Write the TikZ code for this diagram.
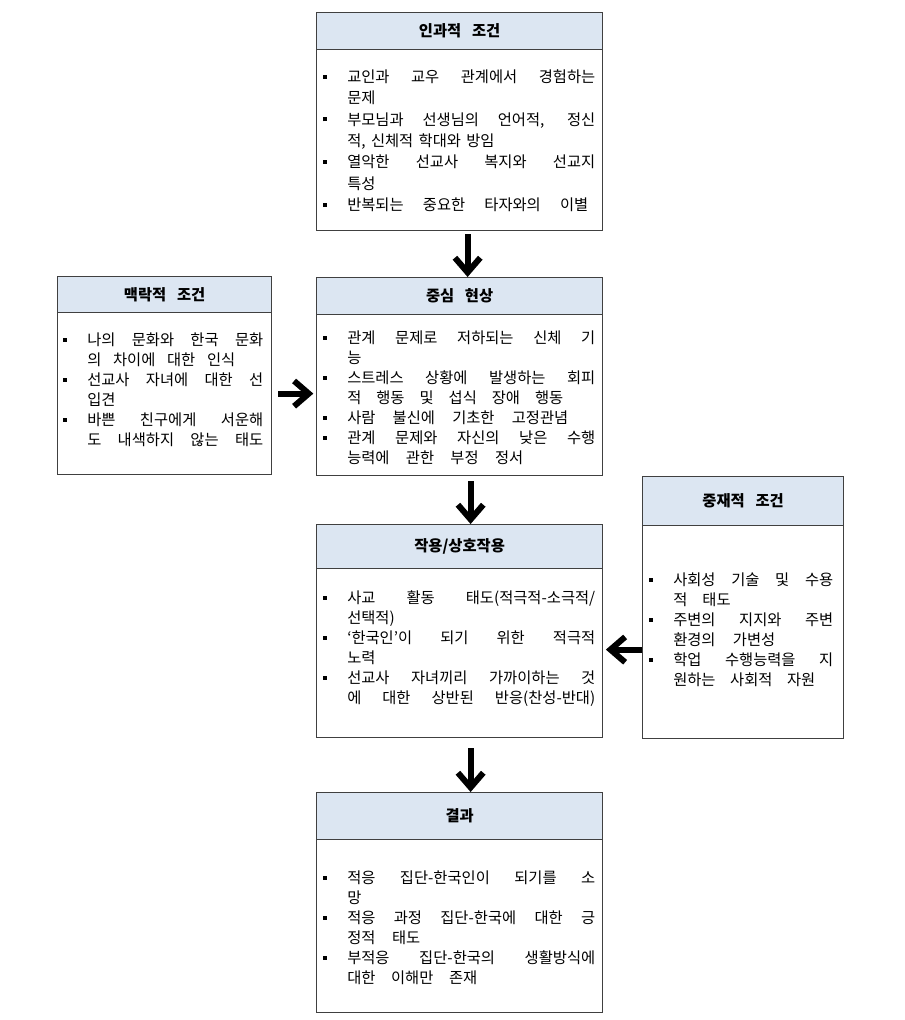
\documentclass[tikz,border=0pt]{standalone}
\usepackage{fontspec}
\setmainfont{Noto Sans CJK KR}
\usetikzlibrary{arrows.meta}
\definecolor{hdr}{HTML}{DCE6F2}
\definecolor{bord}{HTML}{404040}
\newlength\tw
\newcommand\sqb{\llap{\rule[2.9pt]{3pt}{3pt}\hspace{15pt}}}
\newcommand\jline[1]{\hbox to\tw{\spaceskip=0.25em plus 1fil\relax #1}}
\newcommand\wline[2]{\hbox to #1{\spaceskip=0.25em plus 1fil\relax #2}}
\newcommand\nline[1]{\hbox{\spaceskip=0.9em\relax #1}}
\newcommand\blk[3]{\vtop{\tw=#1\fontsize{11.5pt}{#2}\selectfont\baselineskip=#2\lineskiplimit=-20pt #3}}
\tikzset{
  hd/.style={draw=bord, fill=hdr, line width=0.9pt, inner sep=0, anchor=north west,
    font=\bfseries\fontsize{11.5pt}{13pt}\selectfont},
  bx/.style={draw=bord, line width=0.9pt, inner sep=0, anchor=north west},
  tx/.style={inner sep=0, anchor=base west},
  bigarr/.style={line width=4.5pt, -{Straight Barb[length=11pt,width=19pt]}},
}
\begin{document}
\begin{tikzpicture}[x=0.75pt,y=-0.75pt]
\useasboundingbox[fill=white] (0,0) rectangle (905,1020);

% A: causal conditions
\node[hd, minimum width=214.5pt, minimum height=27.75pt] (Ah) at (316,12) {{\spaceskip=0.7em\relax 인과적 조건}};
\node[bx, minimum width=214.5pt, minimum height=163.5pt] (A) at (316,12) {};
\node[tx] (At) at (347,82.5) {\blk{186pt}{16pt}{%
\jline{\sqb 교인과 교우 관계에서 경험하는}
\nline{문제}
\jline{\sqb 부모님과 선생님의 언어적, 정신}
\hbox{\spaceskip=0.35em\relax 적, 신체적 학대와 방임}
\jline{\sqb 열악한 선교사 복지와 선교지}
\nline{특성}
\wline{180.75pt}{\sqb 반복되는 중요한 타자와의 이별}}};

% B: central phenomenon
\node[hd, minimum width=214.5pt, minimum height=27.75pt] (Bh) at (316,277) {{\spaceskip=0.7em\relax 중심 현상}};
\node[bx, minimum width=214.5pt, minimum height=148.5pt] (B) at (316,277) {};
\node[tx] (Bt) at (347,343.5) {\blk{186pt}{15pt}{%
\jline{\sqb 관계 문제로 저하되는 신체 기}
\nline{능}
\jline{\sqb 스트레스 상황에 발생하는 회피}
\wline{162pt}{적 행동 및 섭식 장애 행동}
\wline{165.75pt}{\sqb 사람 불신에 기초한 고정관념}
\jline{\sqb 관계 문제와 자신의 낮은 수행}
\wline{132pt}{능력에 관한 부정 정서}}};

% C: contextual conditions
\node[hd, minimum width=160.5pt, minimum height=27pt] (Ch) at (57,276) {{\spaceskip=0.7em\relax 맥락적 조건}};
\node[bx, minimum width=160.5pt, minimum height=148.5pt] (C) at (57,276) {};
\node[tx] (Ct) at (87,345.5) {\blk{132pt}{15pt}{%
\jline{\sqb 나의 문화와 한국 문화}
\wline{111pt}{의 차이에 대한 인식}
\jline{\sqb 선교사 자녀에 대한 선}
\nline{입견}
\jline{\sqb 바쁜 친구에게 서운해}
\jline{도 내색하지 않는 태도}}};

% D: action / interaction
\node[hd, minimum width=214.5pt, minimum height=33pt] (Dh) at (316,524) {작용/상호작용};
\node[bx, minimum width=214.5pt, minimum height=159.75pt] (D) at (316,524) {};
\node[tx] (Dt) at (347,603.5) {\blk{186pt}{15pt}{%
\jline{\sqb 사교 활동 태도(적극적-소극적/}
\nline{선택적)}
\jline{\sqb ‘한국인’이 되기 위한 적극적}
\nline{노력}
\jline{\sqb 선교사 자녀끼리 가까이하는 것}
\jline{에 대한 상반된 반응(찬성-반대)}}};

% E: intervening conditions
\node[hd, minimum width=150.75pt, minimum height=36.75pt] (Eh) at (642,476) {{\spaceskip=0.7em\relax 중재적 조건}};
\node[bx, minimum width=150.75pt, minimum height=196.5pt] (E) at (642,476) {};
\node[tx] (Et) at (673,585.5) {\blk{120pt}{15pt}{%
\jline{\sqb 사회성 기술 및 수용}
\wline{43pt}{적 태도}
\jline{\sqb 주변의 지지와 주변}
\wline{76.5pt}{환경의 가변성}
\jline{\sqb 학업 수행능력을 지}
\wline{106.5pt}{원하는 사회적 자원}}};

% F: consequences
\node[hd, minimum width=214.5pt, minimum height=35.25pt] (Fh) at (316,792) {결과};
\node[bx, minimum width=214.5pt, minimum height=165pt] (F) at (316,792) {};
\node[tx] (Ft) at (347,883.5) {\blk{186pt}{15pt}{%
\jline{\sqb 적응 집단-한국인이 되기를 소}
\nline{망}
\jline{\sqb 적응 과정 집단-한국에 대한 긍}
\wline{54.75pt}{정적 태도}
\jline{\sqb 부적응 집단-한국의 생활방식에}
\wline{97.5pt}{대한 이해만 존재}}};

% connectors
\draw[bigarr] ([xshift=6pt,yshift=-2.25pt]A.south) -- ([xshift=6pt]Bh.north);
\draw[bigarr] ([xshift=8.25pt,yshift=-3.75pt]B.south) -- ([xshift=8.25pt]Dh.north);
\draw[bigarr] ([xshift=8.25pt,yshift=-7.5pt]D.south) -- ([xshift=8.25pt]Fh.north);
\draw[bigarr, shorten >=2pt] ([xshift=4.5pt,yshift=-13.5pt]C.east) -- ([yshift=-13.5pt]C.east -| B.west);
\draw[bigarr, shorten >=2pt] ([yshift=-31.5pt]E.west) -- ([yshift=-31.5pt]E.west -| D.east);
\end{tikzpicture}
\end{document}
